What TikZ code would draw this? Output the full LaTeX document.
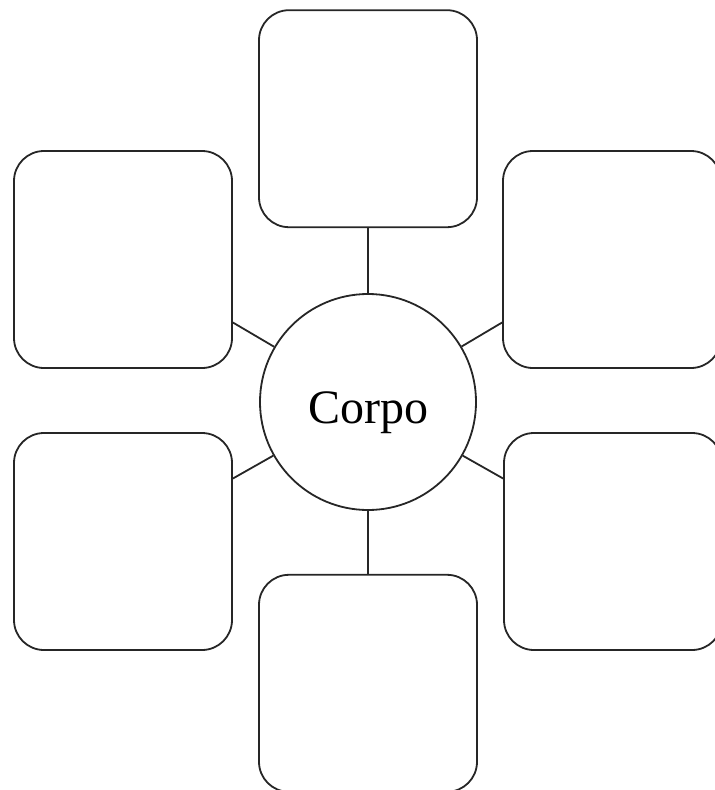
\documentclass[tikz,border=0pt]{standalone}
\usepackage{fontspec}
\setmainfont{Liberation Serif}
\usepackage{tikz}
\usetikzlibrary{positioning,calc}

\begin{document}
\begin{tikzpicture}[
    x=1pt, y=-1pt,
    node distance=65pt,
    card/.style={draw=black!85, rounded corners=30pt, line width=1.8pt, minimum width=218pt, minimum height=217pt},
    hub/.style={draw=black!85, circle, line width=1.8pt, minimum size=216pt, inner sep=0pt,
      text height=44pt, text depth=2pt, font=\fontsize{48}{56}\selectfont},
    link/.style={draw=black!85, line width=1.8pt}]
  \useasboundingbox (0,0) rectangle (715,790);
  \node[hub] (corpo) at (368,402) {Corpo};
  \node[card, above=65pt of corpo] (top) {};
  \node[card, below=63pt of corpo] (bot) {};
  \node[card] (tl) at (123,259.5) {};
  \node[card] (tr) at (612,259.5) {};
  \node[card] (bl) at (123,541.5) {};
  \node[card] (br) at (613,541.5) {};
  \draw[link] (corpo) -- (top);
  \draw[link] (corpo) -- (bot);
  \draw[link] (corpo) -- ($(tl.east)+(0,63)$);
  \draw[link] (corpo) -- ($(tr.west)+(0,63)$);
  \draw[link] (corpo) -- ($(bl.east)+(0,-63)$);
  \draw[link] (corpo) -- ($(br.west)+(0,-63)$);
\end{tikzpicture}
\end{document}
